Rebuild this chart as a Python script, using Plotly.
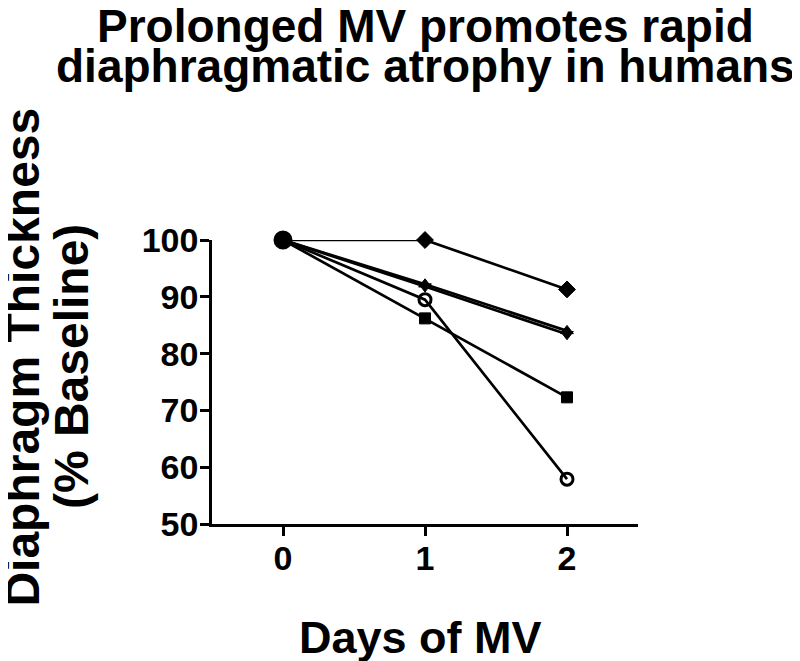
import plotly.graph_objects as go

# days of mechanical ventilation and diaphragm thickness (% of baseline)
days = [0, 1, 2]
patient_diamond = [100, 100, 91.3]
patient_tri_up = [100, 92.2, 84.0]
patient_tri_down = [100, 91.8, 83.4]
patient_circle = [100, 89.5, 57.9]
patient_square = [100, 86.2, 72.3]

y_ticks = [50, 60, 70, 80, 90, 100]

title_lines = ["Prolonged MV promotes rapid", "diaphragmatic atrophy in humans"]
ytitle_lines = ["Diaphragm Thickness", "(% Baseline)"]

FONT = "Arial, Liberation Sans, sans-serif"

series = [
    (patient_diamond, "diamond", 13, 1),
    (patient_tri_up, "triangle-up", 11, 1),
    (patient_tri_down, "triangle-down", 11, 1),
    (patient_square, "square", 11, 1),
    (patient_circle, "circle-open", 12, 3),
]

fig = go.Figure()
for vals, sym, sz, lw in series:
    fig.add_trace(go.Scatter(
        x=days, y=vals, mode="lines+markers",
        line=dict(color="#000000", width=2.7),
        marker=dict(symbol=["circle", sym, sym], size=[16, sz, sz], opacity=1,
                    color="#000000", line=dict(color="#000000", width=lw)),
        cliponaxis=False, showlegend=False, hoverinfo="skip"))

tick_font = dict(family=FONT, size=34, color="black", weight="bold")
fig.update_xaxes(range=[-0.5, 2.5], tickvals=days, showgrid=False, zeroline=False,
                 showline=True, linecolor="black", linewidth=2.5,
                 ticks="outside", ticklen=9, tickwidth=2.5, tickcolor="black",
                 ticklabelstandoff=-7, tickfont=tick_font)
fig.update_yaxes(range=[50, 100], tickvals=y_ticks, showgrid=False, zeroline=False,
                 showline=True, linecolor="black", linewidth=2.5,
                 ticks="outside", ticklen=9, tickwidth=2.5, tickcolor="black",
                 ticklabelstandoff=-5, tickfont=tick_font)

# y-axis title, one annotation per line to keep the tight line spacing
for txt, xp, yp in zip(ytitle_lines, [-0.447, -0.331], [0.588, 0.556]):
    fig.add_annotation(text=f"<b>{txt}</b>", textangle=-90,
                       xref="paper", yref="paper", x=xp, y=yp,
                       xanchor="center", yanchor="middle", showarrow=False,
                       font=dict(family=FONT, size=48, color="black"))
fig.add_annotation(text="<b>Days of MV</b>", xref="paper", yref="paper",
                   x=0.49, y=-0.398, xanchor="center", yanchor="middle",
                   showarrow=False, font=dict(family=FONT, size=45, color="black"))
for txt, yp in zip(title_lines, [1.754, 1.612]):
    fig.add_annotation(text=f"<b>{txt}</b>", xref="paper", yref="paper",
                       x=0.5, y=yp, xanchor="center", yanchor="middle",
                       showarrow=False, font=dict(family=FONT, size=46, color="black"))

# page body keeps its 8px margin, so the figure is sized to fit inside it
fig.update_layout(
    width=792, height=653,
    margin=dict(l=204, r=162, t=232, b=137),
    plot_bgcolor="white", paper_bgcolor="white",
)

fig.write_html("out.html")
